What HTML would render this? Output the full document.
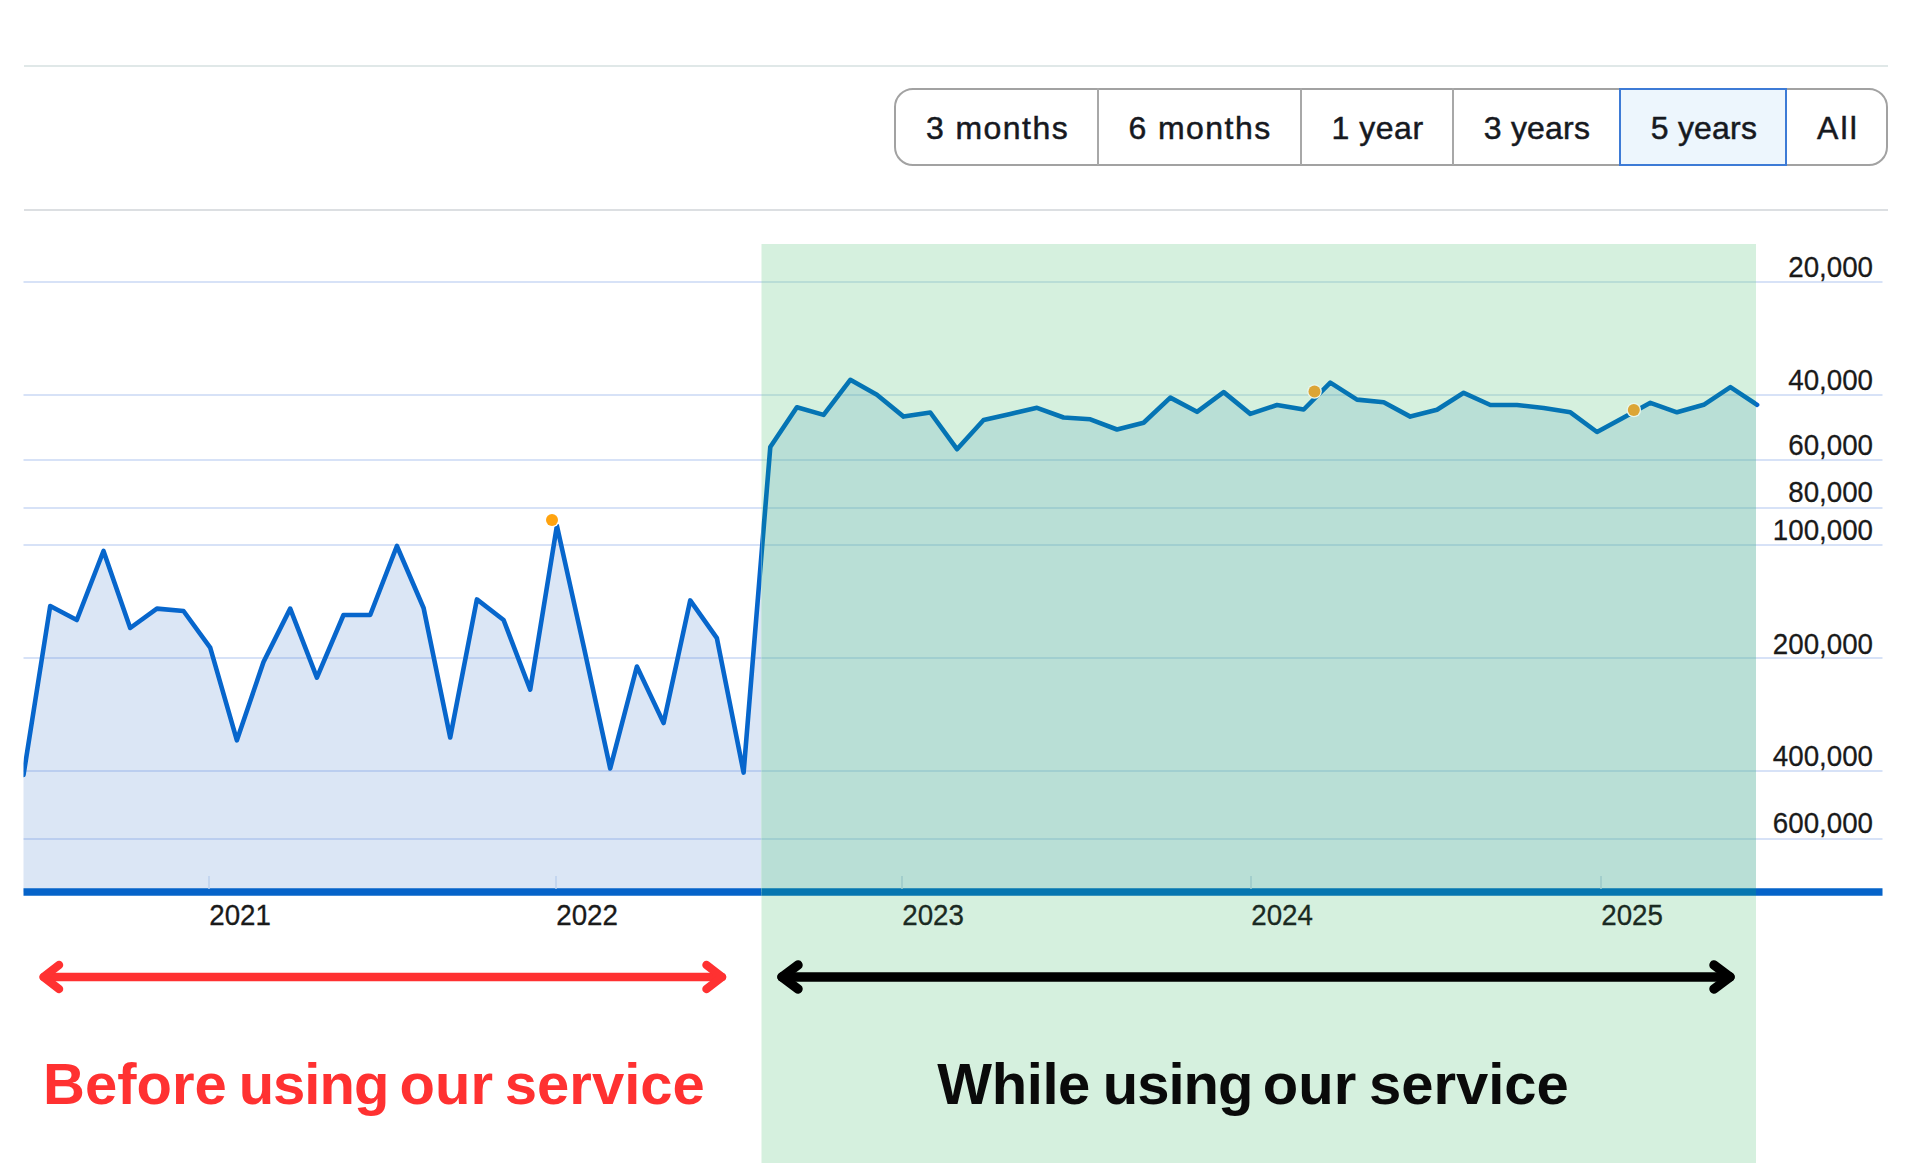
<!DOCTYPE html>
<html><head><meta charset="utf-8">
<style>
html,body{margin:0;padding:0;background:#fff;width:1913px;height:1163px;overflow:hidden;}
body{position:relative;font-family:"Liberation Sans",sans-serif;}
.hr{position:absolute;left:23.5px;width:1864px;height:2px;}
.grp{position:absolute;left:894px;top:87.5px;width:994px;height:78px;box-sizing:border-box;border:2px solid #a2a2a2;border-radius:19px;}
.dv{position:absolute;top:88px;width:2px;height:77px;background:#a8a8a8;}
.sel{position:absolute;left:1618.5px;top:87.5px;width:168px;height:78px;box-sizing:border-box;border:2px solid #3d7bd6;background:#edf6fd;}
.bt{position:absolute;top:89px;height:76px;font-size:32px;color:#16191f;line-height:78px;text-align:center;letter-spacing:1.45px;-webkit-text-stroke:0.5px #16191f;}
svg{position:absolute;left:0;top:0;}
.big{position:absolute;top:1054.5px;font-weight:bold;font-size:58px;white-space:nowrap;line-height:1;}
</style></head><body>
<div class="hr" style="top:64.5px;background:#e0e8e8"></div>
<div class="hr" style="top:208.5px;background:#dcdfe2"></div>
<div class="grp"></div>
<div class="dv" style="left:1096.8px"></div>
<div class="dv" style="left:1300px"></div>
<div class="dv" style="left:1452px"></div>
<div class="sel"></div>
<div class="bt" style="left:897px;width:201px;">3 months</div>
<div class="bt" style="left:1099px;width:202px;">6 months</div>
<div class="bt" style="left:1302px;width:151px;letter-spacing:0.55px;">1 year</div>
<div class="bt" style="left:1454px;width:166px;letter-spacing:0.2px;">3 years</div>
<div class="bt" style="left:1621.5px;width:165px;letter-spacing:0.2px;">5 years</div>
<div class="bt" style="left:1787.5px;width:101px;letter-spacing:2.2px;">All</div>

<svg width="1913" height="1163" viewBox="0 0 1913 1163">
<defs><clipPath id="gc"><rect x="761.5" y="244" width="994.5" height="919"/></clipPath><clipPath id="lc"><rect x="23.5" y="0" width="1740" height="1163"/></clipPath></defs>
<path d="M23.5,892 L23.5,775.0 L50.2,606.0 L76.8,620.0 L103.5,551.0 L130.2,628.0 L156.9,608.6 L183.5,611.0 L210.2,647.6 L236.9,740.3 L263.5,662.0 L290.2,608.6 L316.9,677.7 L343.5,615.0 L370.2,615.0 L396.9,546.0 L423.6,608.0 L450.2,737.5 L476.9,599.4 L503.6,620.0 L530.2,689.7 L556.9,525.8 L583.6,646.0 L610.2,768.4 L636.9,666.5 L663.6,723.0 L690.2,600.4 L716.9,638.2 L743.6,772.6 L770.3,447.0 L796.9,407.3 L823.6,414.9 L850.3,379.8 L876.9,394.8 L903.6,416.6 L930.3,412.5 L957.0,449.2 L983.6,420.0 L1010.3,413.9 L1037.0,407.8 L1063.6,417.5 L1090.3,419.3 L1117.0,429.5 L1143.6,422.7 L1170.3,397.6 L1197.0,411.8 L1223.7,392.1 L1250.3,413.9 L1277.0,405.0 L1303.7,409.5 L1330.3,382.6 L1357.0,399.6 L1383.7,402.3 L1410.3,416.6 L1437.0,409.8 L1463.7,392.8 L1490.4,405.0 L1517.0,405.0 L1543.7,408.0 L1570.4,412.3 L1597.0,432.0 L1623.7,417.4 L1650.4,402.8 L1677.0,412.3 L1703.7,404.8 L1730.4,387.2 L1756.0,406.0 L1756.0,892 Z" fill="#dbe6f5"/>
<line x1="23.5" y1="282" x2="1882.5" y2="282" stroke="rgba(80,130,220,0.23)" stroke-width="2"/>
<line x1="23.5" y1="395" x2="1882.5" y2="395" stroke="rgba(80,130,220,0.23)" stroke-width="2"/>
<line x1="23.5" y1="460" x2="1882.5" y2="460" stroke="rgba(80,130,220,0.23)" stroke-width="2"/>
<line x1="23.5" y1="508" x2="1882.5" y2="508" stroke="rgba(80,130,220,0.23)" stroke-width="2"/>
<line x1="23.5" y1="545" x2="1882.5" y2="545" stroke="rgba(80,130,220,0.23)" stroke-width="2"/>
<line x1="23.5" y1="658" x2="1882.5" y2="658" stroke="rgba(80,130,220,0.23)" stroke-width="2"/>
<line x1="23.5" y1="771" x2="1882.5" y2="771" stroke="rgba(80,130,220,0.23)" stroke-width="2"/>
<line x1="23.5" y1="839" x2="1882.5" y2="839" stroke="rgba(80,130,220,0.23)" stroke-width="2"/>
<line x1="23.5" y1="892" x2="1882.5" y2="892" stroke="#0563c9" stroke-width="7.5"/>
<line x1="209" y1="876" x2="209" y2="889" stroke="#bcd0ec" stroke-width="1.5"/>
<line x1="556" y1="876" x2="556" y2="889" stroke="#bcd0ec" stroke-width="1.5"/>
<line x1="902" y1="876" x2="902" y2="889" stroke="#bcd0ec" stroke-width="1.5"/>
<line x1="1251" y1="876" x2="1251" y2="889" stroke="#bcd0ec" stroke-width="1.5"/>
<line x1="1601" y1="876" x2="1601" y2="889" stroke="#bcd0ec" stroke-width="1.5"/>
<polyline clip-path="url(#lc)" points="23.5,775.0 50.2,606.0 76.8,620.0 103.5,551.0 130.2,628.0 156.9,608.6 183.5,611.0 210.2,647.6 236.9,740.3 263.5,662.0 290.2,608.6 316.9,677.7 343.5,615.0 370.2,615.0 396.9,546.0 423.6,608.0 450.2,737.5 476.9,599.4 503.6,620.0 530.2,689.7 556.9,525.8 583.6,646.0 610.2,768.4 636.9,666.5 663.6,723.0 690.2,600.4 716.9,638.2 743.6,772.6 770.3,447.0 796.9,407.3 823.6,414.9 850.3,379.8 876.9,394.8 903.6,416.6 930.3,412.5 957.0,449.2 983.6,420.0 1010.3,413.9 1037.0,407.8 1063.6,417.5 1090.3,419.3 1117.0,429.5 1143.6,422.7 1170.3,397.6 1197.0,411.8 1223.7,392.1 1250.3,413.9 1277.0,405.0 1303.7,409.5 1330.3,382.6 1357.0,399.6 1383.7,402.3 1410.3,416.6 1437.0,409.8 1463.7,392.8 1490.4,405.0 1517.0,405.0 1543.7,408.0 1570.4,412.3 1597.0,432.0 1623.7,417.4 1650.4,402.8 1677.0,412.3 1703.7,404.8 1730.4,387.2 1757.1,404.8" fill="none" stroke="#0766cc" stroke-width="4.6" stroke-linejoin="round" stroke-linecap="round"/>
<circle cx="552" cy="520" r="7.3" fill="#fff"/><circle cx="552" cy="520" r="6" fill="#ffa30f"/>
<circle cx="1314.5" cy="391.5" r="7.3" fill="#fff"/><circle cx="1314.5" cy="391.5" r="6" fill="#ffa30f"/>
<circle cx="1633.8" cy="410" r="7.3" fill="#fff"/><circle cx="1633.8" cy="410" r="6" fill="#ffa30f"/>
<g font-family="Liberation Sans" font-size="29.5" fill="#1a1a1a" stroke="#1a1a1a" stroke-width="0.3">
<text transform="translate(209.3,925) scale(0.94,1)">2021</text>
<text transform="translate(556.3,925) scale(0.94,1)">2022</text>
<text transform="translate(902.3,925) scale(0.94,1)">2023</text>
<text transform="translate(1251.3,925) scale(0.94,1)">2024</text>
<text transform="translate(1601.3,925) scale(0.94,1)">2025</text>
</g>
<g font-family="Liberation Sans" font-size="29.5" fill="#1a1a1a" stroke="#1a1a1a" stroke-width="0.3">
<text transform="translate(1873,276.7) scale(0.94,1)" text-anchor="end">20,000</text>
<text transform="translate(1873,389.7) scale(0.94,1)" text-anchor="end">40,000</text>
<text transform="translate(1873,454.7) scale(0.94,1)" text-anchor="end">60,000</text>
<text transform="translate(1873,502.2) scale(0.94,1)" text-anchor="end">80,000</text>
<text transform="translate(1873,539.7) scale(0.94,1)" text-anchor="end">100,000</text>
<text transform="translate(1873,653.7) scale(0.94,1)" text-anchor="end">200,000</text>
<text transform="translate(1873,766.2) scale(0.94,1)" text-anchor="end">400,000</text>
<text transform="translate(1873,833.2) scale(0.94,1)" text-anchor="end">600,000</text>
</g>
<g stroke="#ff3131" stroke-width="8.5" fill="none" stroke-linecap="round" stroke-linejoin="round">
<line x1="44" y1="977" x2="722" y2="977"/>
<polyline points="59,965 43.5,977 59,989"/>
<polyline points="706.5,965 722,977 706.5,989"/>
</g>
<rect x="761.5" y="244" width="994.5" height="919" fill="#d5f0de"/>
<g clip-path="url(#gc)">
<path d="M23.5,892 L23.5,775.0 L50.2,606.0 L76.8,620.0 L103.5,551.0 L130.2,628.0 L156.9,608.6 L183.5,611.0 L210.2,647.6 L236.9,740.3 L263.5,662.0 L290.2,608.6 L316.9,677.7 L343.5,615.0 L370.2,615.0 L396.9,546.0 L423.6,608.0 L450.2,737.5 L476.9,599.4 L503.6,620.0 L530.2,689.7 L556.9,525.8 L583.6,646.0 L610.2,768.4 L636.9,666.5 L663.6,723.0 L690.2,600.4 L716.9,638.2 L743.6,772.6 L770.3,447.0 L796.9,407.3 L823.6,414.9 L850.3,379.8 L876.9,394.8 L903.6,416.6 L930.3,412.5 L957.0,449.2 L983.6,420.0 L1010.3,413.9 L1037.0,407.8 L1063.6,417.5 L1090.3,419.3 L1117.0,429.5 L1143.6,422.7 L1170.3,397.6 L1197.0,411.8 L1223.7,392.1 L1250.3,413.9 L1277.0,405.0 L1303.7,409.5 L1330.3,382.6 L1357.0,399.6 L1383.7,402.3 L1410.3,416.6 L1437.0,409.8 L1463.7,392.8 L1490.4,405.0 L1517.0,405.0 L1543.7,408.0 L1570.4,412.3 L1597.0,432.0 L1623.7,417.4 L1650.4,402.8 L1677.0,412.3 L1703.7,404.8 L1730.4,387.2 L1756.0,406.0 L1756.0,892 Z" fill="#b9dfd6"/>
<line x1="23.5" y1="282" x2="1882.5" y2="282" stroke="rgba(50,130,175,0.17)" stroke-width="2"/>
<line x1="23.5" y1="395" x2="1882.5" y2="395" stroke="rgba(50,130,175,0.17)" stroke-width="2"/>
<line x1="23.5" y1="460" x2="1882.5" y2="460" stroke="rgba(50,130,175,0.17)" stroke-width="2"/>
<line x1="23.5" y1="508" x2="1882.5" y2="508" stroke="rgba(50,130,175,0.17)" stroke-width="2"/>
<line x1="23.5" y1="545" x2="1882.5" y2="545" stroke="rgba(50,130,175,0.17)" stroke-width="2"/>
<line x1="23.5" y1="658" x2="1882.5" y2="658" stroke="rgba(50,130,175,0.17)" stroke-width="2"/>
<line x1="23.5" y1="771" x2="1882.5" y2="771" stroke="rgba(50,130,175,0.17)" stroke-width="2"/>
<line x1="23.5" y1="839" x2="1882.5" y2="839" stroke="rgba(50,130,175,0.17)" stroke-width="2"/>
<line x1="23.5" y1="892" x2="1882.5" y2="892" stroke="#0576b0" stroke-width="7.5"/>
<line x1="209" y1="876" x2="209" y2="889" stroke="#9cc8c8" stroke-width="1.5"/>
<line x1="556" y1="876" x2="556" y2="889" stroke="#9cc8c8" stroke-width="1.5"/>
<line x1="902" y1="876" x2="902" y2="889" stroke="#9cc8c8" stroke-width="1.5"/>
<line x1="1251" y1="876" x2="1251" y2="889" stroke="#9cc8c8" stroke-width="1.5"/>
<line x1="1601" y1="876" x2="1601" y2="889" stroke="#9cc8c8" stroke-width="1.5"/>
<polyline clip-path="url(#lc)" points="23.5,775.0 50.2,606.0 76.8,620.0 103.5,551.0 130.2,628.0 156.9,608.6 183.5,611.0 210.2,647.6 236.9,740.3 263.5,662.0 290.2,608.6 316.9,677.7 343.5,615.0 370.2,615.0 396.9,546.0 423.6,608.0 450.2,737.5 476.9,599.4 503.6,620.0 530.2,689.7 556.9,525.8 583.6,646.0 610.2,768.4 636.9,666.5 663.6,723.0 690.2,600.4 716.9,638.2 743.6,772.6 770.3,447.0 796.9,407.3 823.6,414.9 850.3,379.8 876.9,394.8 903.6,416.6 930.3,412.5 957.0,449.2 983.6,420.0 1010.3,413.9 1037.0,407.8 1063.6,417.5 1090.3,419.3 1117.0,429.5 1143.6,422.7 1170.3,397.6 1197.0,411.8 1223.7,392.1 1250.3,413.9 1277.0,405.0 1303.7,409.5 1330.3,382.6 1357.0,399.6 1383.7,402.3 1410.3,416.6 1437.0,409.8 1463.7,392.8 1490.4,405.0 1517.0,405.0 1543.7,408.0 1570.4,412.3 1597.0,432.0 1623.7,417.4 1650.4,402.8 1677.0,412.3 1703.7,404.8 1730.4,387.2 1757.1,404.8" fill="none" stroke="#0574b4" stroke-width="4.6" stroke-linejoin="round" stroke-linecap="round"/>
<circle cx="552" cy="520" r="7.3" fill="#e8f6ec"/><circle cx="552" cy="520" r="6" fill="#dca535"/>
<circle cx="1314.5" cy="391.5" r="7.3" fill="#e8f6ec"/><circle cx="1314.5" cy="391.5" r="6" fill="#dca535"/>
<circle cx="1633.8" cy="410" r="7.3" fill="#e8f6ec"/><circle cx="1633.8" cy="410" r="6" fill="#dca535"/>
<g font-family="Liberation Sans" font-size="29.5" fill="#1a2a22" stroke="#1a2a22" stroke-width="0.3">
<text transform="translate(209.3,925) scale(0.94,1)">2021</text>
<text transform="translate(556.3,925) scale(0.94,1)">2022</text>
<text transform="translate(902.3,925) scale(0.94,1)">2023</text>
<text transform="translate(1251.3,925) scale(0.94,1)">2024</text>
<text transform="translate(1601.3,925) scale(0.94,1)">2025</text>
</g>
</g>
<g stroke="#000" stroke-width="9.5" fill="none" stroke-linecap="round" stroke-linejoin="round">
<line x1="782" y1="977" x2="1730" y2="977"/>
<polyline points="798,965 782,977 798,989"/>
<polyline points="1714,965 1730,977 1714,989"/>
</g>
</svg>
<div class="big" style="left:43px;color:#ff3131;">Before</div>
<div class="big" style="left:238.7px;color:#ff3131;letter-spacing:-1px;">using</div>
<div class="big" style="left:399.6px;color:#ff3131;">our</div>
<div class="big" style="left:504.8px;color:#ff3131;">service</div>
<div class="big" style="left:937.3px;color:#0a0a0a;letter-spacing:-0.4px;">While</div>
<div class="big" style="left:1102.8px;color:#0a0a0a;letter-spacing:-1px;">using</div>
<div class="big" style="left:1262.8px;color:#0a0a0a;">our</div>
<div class="big" style="left:1368.9px;color:#0a0a0a;">service</div>
</body></html>
